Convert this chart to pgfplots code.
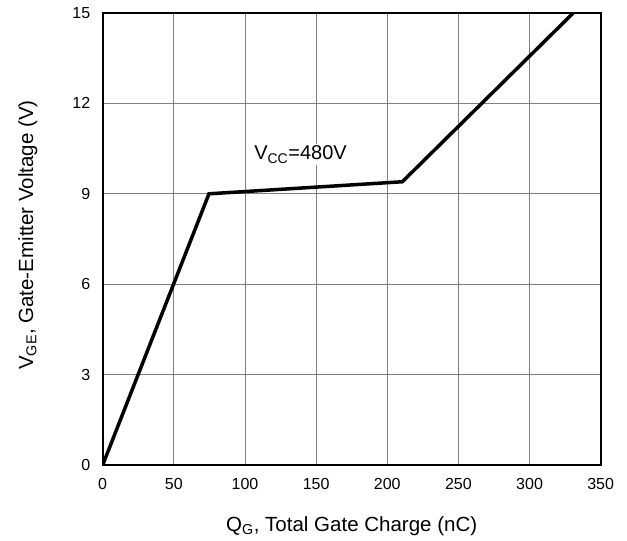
\documentclass[border=0pt]{standalone}
\usepackage{pgfplots}
\pgfplotsset{compat=1.18}
\usepackage{fontspec}
\setmainfont{Liberation Sans}
\begin{document}
\begin{tikzpicture}
\begin{axis}[
  at={(0pt,0pt)}, anchor=south west,
  scale only axis, width=498pt, height=452pt,
  xmin=0, xmax=350, ymin=0, ymax=15,
  xtick={0,50,...,350}, ytick={0,3,...,15},
  major tick length=0pt,
  grid=major,
  grid style={draw=black!50, line width=0.9pt},
  axis line style={line width=2pt},
  /pgf/number format/assume math mode=true,
  tick label style={font=\fontsize{16}{18}\selectfont},
  xticklabel style={yshift=-10pt},
  yticklabel style={xshift=-9pt},
  xlabel={Q\textsubscript{G}, Total Gate Charge (nC)},
  ylabel={V\textsubscript{GE}, Gate-Emitter Voltage (V)},
  label style={font=\fontsize{20.5}{23}\selectfont},
  xlabel style={yshift=-20pt, xshift=0pt},
  ylabel style={yshift=28pt, xshift=4pt},
]
\addplot[black, line width=3.5pt, line join=miter] coordinates {
  (0,0) (74.7,9.0) (210.6,9.4) (330.7,15)
};
\node[anchor=west, fill=white, inner sep=2pt, font=\fontsize{20}{22}\selectfont] at (axis cs:105,10.3) {V\textsubscript{CC}=480V};
\end{axis}
\pgfresetboundingbox
\path[use as bounding box] (-102.7pt,-76pt) rectangle (524.3pt,465pt);
\end{tikzpicture}
\end{document}
